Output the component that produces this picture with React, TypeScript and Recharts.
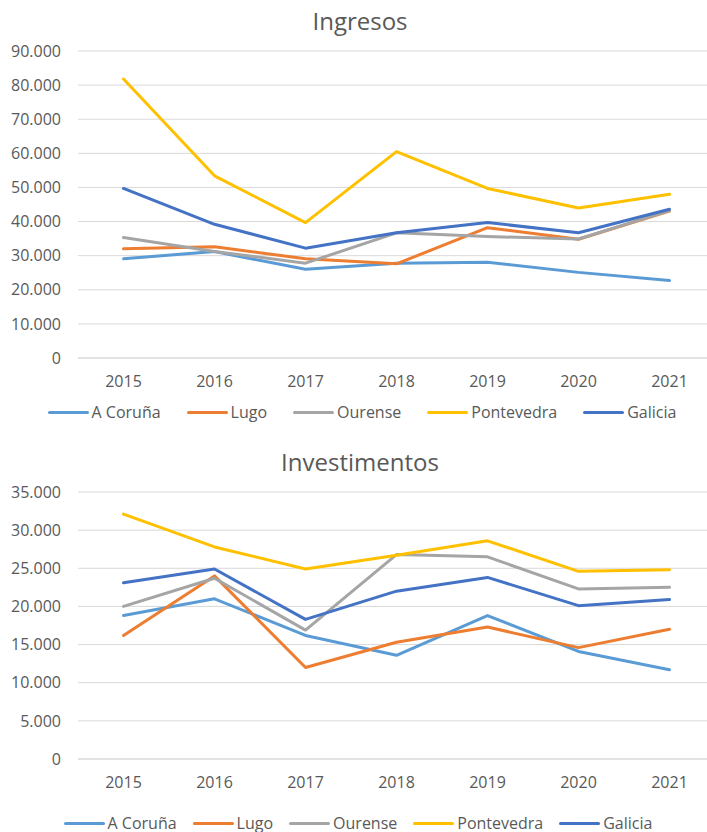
import { LineChart, Line, XAxis, YAxis, CartesianGrid } from 'recharts';

const years = ['2015', '2016', '2017', '2018', '2019', '2020', '2021'];

// Ingresos
const ingCoruna = [29100, 31200, 26000, 27800, 28100, 25100, 22700];
const ingLugo = [32000, 32600, 29100, 27600, 38200, 34800, 43100];
const ingOurense = [35300, 31200, 27800, 36700, 35600, 34900, 43200];
const ingPontevedra = [81800, 53400, 39700, 60500, 49700, 44000, 48000];
const ingGalicia = [49700, 39200, 32200, 36700, 39700, 36700, 43600];
const ingTicks = [0, 10000, 20000, 30000, 40000, 50000, 60000, 70000, 80000, 90000];

// Investimentos
const invCoruna = [18800, 21000, 16200, 13600, 18800, 14100, 11700];
const invLugo = [16200, 24000, 12000, 15300, 17300, 14600, 17000];
const invOurense = [20000, 23700, 16900, 26800, 26500, 22300, 22500];
const invPontevedra = [32100, 27800, 24900, 26700, 28600, 24600, 24800];
const invGalicia = [23100, 24900, 18300, 22000, 23800, 20100, 20900];
const invTicks = [0, 5000, 10000, 15000, 20000, 25000, 30000, 35000];

const series = [
  { key: 'coruna', name: 'A Coruña', color: '#5B9BD5' },
  { key: 'lugo', name: 'Lugo', color: '#ED7D31' },
  { key: 'ourense', name: 'Ourense', color: '#A5A5A5' },
  { key: 'pontevedra', name: 'Pontevedra', color: '#FFC000' },
  { key: 'galicia', name: 'Galicia', color: '#4472C4' },
];

const FONT = '"Open Sans", sans-serif';
const TEXT = '#595959';
const GRID = '#d9d9d9';

const fmt = (v: number) => String(v).replace(/\B(?=(\d{3})+(?!\d))/g, '.');

function buildRows(cols: number[][]) {
  return years.map((year, i) => ({
    year,
    coruna: cols[0][i],
    lugo: cols[1][i],
    ourense: cols[2][i],
    pontevedra: cols[3][i],
    galicia: cols[4][i],
  }));
}

const ingRows = buildRows([ingCoruna, ingLugo, ingOurense, ingPontevedra, ingGalicia]);
const invRows = buildRows([invCoruna, invLugo, invOurense, invPontevedra, invGalicia]);

// ─── Legend (one row, line swatch + label) ───────────────────────────────────
function LegendRow({ top, gap, center }: { top: number; gap: number; center: number }) {
  return (
    <div
      style={{
        position: 'absolute',
        top,
        left: center - 353.5,
        width: 707,
        height: 20,
        display: 'flex',
        justifyContent: 'center',
        alignItems: 'center',
        gap,
        fontFamily: FONT,
        fontSize: 16,
        color: TEXT,
        whiteSpace: 'nowrap',
      }}
    >
      {series.map((s) => (
        <div key={s.key} style={{ display: 'flex', alignItems: 'center' }}>
          <div style={{ width: 41, height: 3, borderRadius: 2, background: s.color, marginRight: 3 }} />
          <span>{s.name}</span>
        </div>
      ))}
    </div>
  );
}

interface PanelProps {
  title: string;
  rows: any[];
  ticks: number[];
  max: number;
  top: number;
  plotTop: number;
  plotBottom: number;
  titleTop: number;
}

function Panel({ title, rows, ticks, max, top, plotTop, plotBottom, titleTop }: PanelProps) {
  return (
    <div style={{ position: 'absolute', top, left: 0, width: 707, height: 392, overflow: 'hidden' }}>
      <div
        style={{
          position: 'absolute',
          top: titleTop,
          left: 0,
          width: 720,
          textAlign: 'center',
          fontFamily: FONT,
          fontSize: 24,
          lineHeight: '24px',
          color: TEXT,
        }}
      >
        {title}
      </div>
      <div style={{ position: 'absolute', top: 0, left: 0 }}>
        <LineChart width={720} height={392} data={rows} margin={{ top: plotTop, right: 5, bottom: plotBottom, left: 0 }}>
          <CartesianGrid stroke={GRID} vertical={false} />
          <XAxis
            dataKey="year"
            axisLine={{ stroke: GRID }}
            tickLine={false}
            tickMargin={12}
            padding={{ left: 45.5, right: 45.5 }}
            tick={{ fill: TEXT, fontSize: 16, fontFamily: FONT }}
            interval={0}
          />
          <YAxis
            domain={[0, max]}
            ticks={ticks}
            width={78}
            axisLine={false}
            tickLine={false}
            tickMargin={11}
            tickFormatter={fmt}
            tick={{ fill: TEXT, fontSize: 16, fontFamily: FONT }}
          />
          {series.map((s) => (
            <Line
              key={s.key}
              dataKey={s.key}
              name={s.name}
              stroke={s.color}
              strokeWidth={3}
              strokeLinecap="round"
              strokeLinejoin="round"
              dot={false}
              activeDot={false}
              isAnimationActive={false}
            />
          ))}
        </LineChart>
      </div>
    </div>
  );
}

export default function App() {
  return (
    <div style={{ position: 'absolute', top: 0, left: 0, width: 707, height: 832, background: '#fff', overflow: 'hidden' }}>
      <Panel title="Ingresos" rows={ingRows} ticks={ingTicks} max={90000} top={0} plotTop={51} plotBottom={4} titleTop={9} />
      <LegendRow top={402} gap={26} center={362} />
      <Panel title="Investimentos" rows={invRows} ticks={invTicks} max={35000} top={440} plotTop={52} plotBottom={43} titleTop={10} />
      <LegendRow top={813} gap={16} center={358} />
    </div>
  );
}
